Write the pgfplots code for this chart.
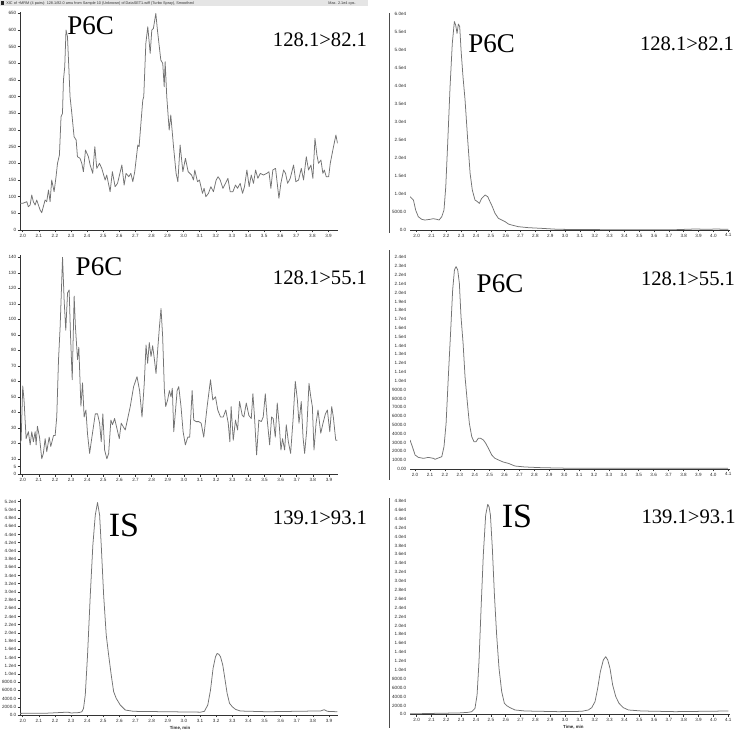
\documentclass[border=0pt]{standalone}
\usepackage{pgfplots}
\pgfplotsset{compat=1.18}
\usepackage{fontspec}
\setmainfont{Liberation Serif}
\newfontfamily\tickfont{Liberation Sans}

\pgfplotsset{
  chrom/.style={
    scale only axis, anchor=south west,
    axis x line*=bottom, axis y line*=left,
    axis line style={black!80, line width=0.4pt},
    tick style={black!80, line width=0.3pt},
    tick align=outside, major tick length=1.2pt,
    ticklabel style={font=\tickfont\fontsize{2.3}{2.6}\selectfont, text=black!85, inner sep=0.5pt,
      /pgf/number format/assume math mode=true},
    xticklabel style={/pgf/number format/.cd, fixed, fixed zerofill, precision=1, assume math mode=true},
    ymin=0,
  },
  leftx/.style={xmin=1.983, xmax=3.956,
    xtick={2.0,2.1,2.2,2.3,2.4,2.5,2.6,2.7,2.8,2.9,3.0,3.1,3.2,3.3,3.4,3.5,3.6,3.7,3.8,3.9}},
  rightx/.style={xmax=4.112,
    xtick={2.0,2.1,2.2,2.3,2.4,2.5,2.6,2.7,2.8,2.9,3.0,3.1,3.2,3.3,3.4,3.5,3.6,3.7,3.8,3.9,4.0,4.1},
    y axis line style={draw=none}, ytick style={draw=none}},
  trace/.style={black!55, line width=0.38pt, no marks, line join=round},
}

\begin{document}
\begin{tikzpicture}
\path[use as bounding box] (0,0) rectangle (373.5pt,-373pt);

% header band
\fill[black!10] (0,0) rectangle (184pt,-3.2pt);
\fill[black!85] (0.5pt,-0.6pt) rectangle (2.1pt,-2.4pt);
\node[anchor=west, inner sep=0, font=\tickfont\fontsize{1.9}{2}\selectfont, text=black!80] at (3pt,-1.6pt)
  {XIC of +MRM (4 pairs): 128.1/82.0 amu from Sample 10 (Unknown) of DataSET1.wiff (Turbo Spray), Smoothed};
\node[anchor=west, inner sep=0, font=\tickfont\fontsize{1.9}{2}\selectfont, text=black!80] at (164pt,-1.6pt)
  {Max. 2.1e4 cps.};

% ---------- Panel 1 ----------
\begin{axis}[chrom, leftx, at={(10pt,-115pt)}, width=158.75pt, height=109.15pt,
  ymax=655, ytick={0,50,...,650},
  yticklabels={0,50,100,150,200,250,300,350,400,450,500,550,600,650}]
\addplot[trace] coordinates {
(1.983,80)(2.000,80)(2.025,85)(2.035,70)(2.046,75)(2.056,105)(2.066,85)(2.077,75)(2.087,90)
(2.108,60)(2.118,52)(2.139,90)(2.149,85)(2.160,120)(2.170,85)(2.180,150)(2.195,115)(2.207,160)
(2.216,200)(2.228,225)(2.238,340)(2.247,350)(2.253,450)(2.261,490)(2.269,600)(2.278,580)
(2.288,470)(2.294,400)(2.305,350)(2.319,280)(2.332,270)(2.340,220)(2.356,215)(2.367,200)
(2.377,175)(2.390,240)(2.408,220)(2.419,195)(2.435,170)(2.448,250)(2.460,185)(2.477,200)
(2.491,185)(2.512,150)(2.522,165)(2.543,115)(2.557,175)(2.574,130)(2.589,140)(2.616,195)
(2.630,135)(2.642,170)(2.659,160)(2.672,170)(2.684,145)(2.696,175)(2.715,255)(2.723,250)
(2.736,330)(2.746,390)(2.752,400)(2.765,560)(2.777,610)(2.792,530)(2.802,600)(2.812,605)
(2.827,650)(2.837,600)(2.858,510)(2.870,500)(2.879,430)(2.885,505)(2.895,400)(2.910,300)
(2.920,345)(2.937,250)(2.953,170)(2.964,145)(2.978,255)(2.995,175)(3.011,215)(3.028,175)
(3.049,165)(3.061,150)(3.069,180)(3.086,145)(3.098,150)(3.117,110)(3.127,125)(3.138,100)
(3.154,110)(3.169,130)(3.185,115)(3.202,150)(3.214,160)(3.227,150)(3.244,125)(3.260,140)
(3.275,155)(3.289,115)(3.306,115)(3.322,135)(3.335,125)(3.351,140)(3.366,110)(3.378,130)
(3.393,180)(3.407,130)(3.420,165)(3.434,140)(3.447,180)(3.461,155)(3.476,170)(3.496,165)
(3.517,170)(3.530,175)(3.542,125)(3.554,180)(3.571,185)(3.592,95)(3.604,140)(3.621,180)
(3.633,170)(3.646,140)(3.662,155)(3.683,195)(3.697,145)(3.714,150)(3.731,185)(3.745,150)
(3.762,220)(3.776,180)(3.791,195)(3.803,155)(3.816,275)(3.828,225)(3.838,200)(3.853,210)
(3.865,170)(3.874,180)(3.886,160)(3.901,160)(3.911,200)(3.927,240)(3.946,285)(3.956,260)
};
\end{axis}

% ---------- Panel 3 ----------
\begin{axis}[chrom, leftx, at={(10pt,-237.15pt)}, width=159pt, height=109.65pt,
  ymax=141.5, ytick={0,5,10,20,30,40,50,60,70,80,90,100,110,120,130,140},
  yticklabels={0,5,10,20,30,40,50,60,70,80,90,100,110,120,130,140}]
\addplot[trace] coordinates {
(1.983,20)(1.990,22)(2.000,57)(2.008,48)(2.021,23)(2.035,27.5)(2.046,19)(2.056,27.5)(2.066,21)
(2.077,27.5)(2.083,19)(2.091,31)(2.104,24)(2.118,10)(2.128,13.5)(2.139,23)(2.149,14.6)(2.164,24)
(2.174,18)(2.191,25)(2.201,25)(2.211,37)(2.222,74)(2.232,95)(2.247,140)(2.257,112)(2.267,93)
(2.278,117)(2.288,119)(2.296,91)(2.307,61)(2.319,115)(2.327,95)(2.340,74)(2.348,82)(2.361,44)
(2.371,59)(2.381,37)(2.392,41.5)(2.402,26)(2.415,13.5)(2.425,21)(2.439,31)(2.450,39)(2.464,39)
(2.477,33)(2.487,21)(2.497,39)(2.508,15.7)(2.522,10)(2.533,13.5)(2.547,35)(2.557,32)(2.570,36)
(2.589,27.5)(2.599,23)(2.611,33)(2.622,31)(2.636,28.6)(2.667,43.7)(2.688,56.6)(2.709,63)
(2.725,54)(2.740,37)(2.754,58.7)(2.765,83.4)(2.775,71.6)(2.785,85)(2.796,76)(2.806,83)
(2.817,74)(2.827,65)(2.837,80)(2.848,95)(2.858,107)(2.868,89)(2.879,54)(2.887,43.7)(2.899,48)
(2.910,54)(2.920,50)(2.928,55.5)(2.937,27.5)(2.958,54)(2.968,56.6)(2.982,43.7)(2.995,27.5)
(3.009,19)(3.024,24)(3.036,24)(3.051,54)(3.061,35)(3.076,34)(3.092,34)(3.107,33)(3.123,24)
(3.144,43.7)(3.165,61)(3.179,48)(3.196,50)(3.210,41.5)(3.227,37)(3.244,37)(3.260,41.5)
(3.275,33)(3.285,21)(3.293,43.7)(3.306,22)(3.320,35)(3.333,28.6)(3.345,47)(3.362,38)(3.372,37)
(3.387,46)(3.403,38)(3.418,36)(3.428,52)(3.438,37)(3.451,12.5)(3.465,35)(3.480,34)(3.492,37)
(3.505,52)(3.517,35)(3.532,19)(3.544,37)(3.554,36)(3.567,24)(3.579,46)(3.592,31)(3.602,15.7)
(3.612,23)(3.625,15.7)(3.635,32)(3.648,21)(3.662,13.5)(3.677,35)(3.691,60)(3.704,48)(3.714,33)
(3.728,47)(3.739,24)(3.749,13.5)(3.762,28.6)(3.776,58.7)(3.787,50)(3.797,43.7)(3.807,15.7)
(3.820,33)(3.832,41.5)(3.849,26.5)(3.863,33)(3.878,39)(3.890,41.5)(3.905,27.5)(3.917,43.7)
(3.927,37)(3.942,22)(3.952,22)
};
\end{axis}

% ---------- Panel 5 ----------
\begin{axis}[chrom, leftx, at={(10pt,-357.5pt)}, width=159pt, height=108pt,
  ymax=52650, ytick={0,2000,...,52000}, scaled y ticks=false,
  yticklabels={0.0,2000.0,4000.0,6000.0,8000.0,1.0e4,1.2e4,1.4e4,1.6e4,1.8e4,2.0e4,2.2e4,2.4e4,2.6e4,2.8e4,3.0e4,3.2e4,3.4e4,3.6e4,3.8e4,4.0e4,4.2e4,4.4e4,4.6e4,4.8e4,5.0e4,5.2e4}]
\addplot[trace] coordinates {
(1.983,400)(2.150,450)(2.280,700)(2.300,500)(2.350,600)(2.367,800)(2.377,1600)(2.388,4900)
(2.402,14600)(2.419,29200)(2.435,41400)(2.450,48700)(2.464,51800)(2.477,48700)(2.487,41400)
(2.502,29200)(2.518,19500)(2.533,14600)(2.549,9750)(2.564,5700)(2.580,4060)(2.605,2440)
(2.636,1220)(2.688,900)(2.895,800)(3.103,700)(3.127,900)(3.148,2440)(3.165,6100)(3.181,11400)
(3.196,14200)(3.206,15000)(3.217,14800)(3.227,14200)(3.241,12200)(3.254,8900)(3.268,5300)
(3.283,2850)(3.300,2030)(3.320,1380)(3.351,975)(3.517,800)(3.849,1000)(3.870,1300)(3.890,900)
(3.952,800)
};
\end{axis}

% ---------- Panel 2 ----------
\begin{axis}[chrom, rightx, xmin=1.955, at={(205pt,-115pt)}, width=160pt, height=108.65pt,
  ymax=60460, ytick={0,5000,...,60000}, scaled y ticks=false,
  yticklabels={0.0,5000.0,1.0e4,1.5e4,2.0e4,2.5e4,3.0e4,3.5e4,4.0e4,4.5e4,5.0e4,5.5e4,6.0e4}]
\addplot[trace] coordinates {
(1.955,9270)(1.978,8350)(1.993,5560)(2.011,3700)(2.034,2970)(2.056,2780)(2.090,2970)(2.112,3150)
(2.135,2970)(2.151,2780)(2.169,3700)(2.184,5560)(2.196,12000)(2.209,24100)(2.225,39900)
(2.240,51900)(2.254,58000)(2.263,57000)(2.272,54700)(2.281,57300)(2.290,56600)(2.299,50100)
(2.312,42700)(2.326,36200)(2.344,25000)(2.360,15800)(2.375,11100)(2.393,8350)(2.409,7900)
(2.422,7400)(2.438,8800)(2.461,9740)(2.479,9270)(2.494,7900)(2.510,6500)(2.528,4640)
(2.551,3250)(2.573,2780)(2.596,2320)(2.618,1670)(2.640,1390)(2.685,930)(2.753,650)(2.843,460)
(2.955,190)(3.292,90)(3.742,90)(3.876,280)(3.966,190)(4.011,280)(4.101,190)
};
\end{axis}

% ---------- Panel 4 ----------
\begin{axis}[chrom, rightx, xmin=1.966, at={(205pt,-234.5pt)}, width=160pt, height=107pt,
  ymax=24265, ytick={0,1000,...,24000}, scaled y ticks=false,
  yticklabels={0.00,1000.0,2000.0,3000.0,4000.0,5000.0,6000.0,7000.0,8000.0,9000.0,1.0e4,1.1e4,1.2e4,1.3e4,1.4e4,1.5e4,1.6e4,1.7e4,1.8e4,1.9e4,2.0e4,2.1e4,2.2e4,2.3e4,2.4e4}]
\addplot[trace] coordinates {
(1.966,3290)(1.982,2530)(2.000,1590)(2.022,1320)(2.056,1210)(2.089,1320)(2.123,1210)(2.134,1100)
(2.156,1250)(2.179,1400)(2.194,2530)(2.208,5180)(2.223,10470)(2.239,15760)(2.252,20300)
(2.264,22570)(2.275,22950)(2.286,22570)(2.297,21050)(2.308,17270)(2.322,14250)(2.335,10470)
(2.351,7450)(2.364,5180)(2.380,3670)(2.395,3100)(2.409,3100)(2.424,3480)(2.440,3480)
(2.458,3290)(2.474,2910)(2.492,2340)(2.514,1590)(2.536,1210)(2.570,945)(2.592,790)(2.626,640)
(2.670,340)(2.737,230)(2.849,150)(3.072,75)(3.519,75)(4.100,75)
};
\end{axis}

% ---------- Panel 6 ----------
\begin{axis}[chrom, rightx, xmin=1.955, at={(205pt,-357.15pt)}, width=160pt, height=107.65pt,
  ymax=48450, ytick={0,2000,...,48000}, scaled y ticks=false,
  yticklabels={0.0,2000.0,4000.0,6000.0,8000.0,1.0e4,1.2e4,1.4e4,1.6e4,1.8e4,2.0e4,2.2e4,2.4e4,2.6e4,2.8e4,3.0e4,3.2e4,3.4e4,3.6e4,3.8e4,4.0e4,4.2e4,4.4e4,4.6e4,4.8e4}]
\addplot[trace] coordinates {
(1.955,100)(2.169,250)(2.281,300)(2.348,450)(2.371,600)(2.393,1350)(2.407,4350)(2.420,11850)
(2.434,23850)(2.449,35850)(2.465,44850)(2.479,47250)(2.488,46700)(2.497,44850)(2.510,37350)
(2.524,26850)(2.539,17850)(2.555,10350)(2.573,5100)(2.591,2475)(2.607,1950)(2.629,1500)
(2.663,975)(2.730,750)(2.955,600)(3.112,675)(3.157,975)(3.180,1500)(3.202,2850)(3.220,5850)
(3.238,9600)(3.258,12225)(3.274,12975)(3.288,12225)(3.303,10350)(3.321,6600)(3.342,3975)
(3.364,2475)(3.393,1500)(3.427,975)(3.517,750)(3.742,600)(4.101,750)
};
\end{axis}

% right-panel frame lines
\draw[black!70, line width=0.4pt] (194.5pt,-6.5pt) -- (194.5pt,-116.5pt);
\draw[black!70, line width=0.4pt] (194.5pt,-125pt) -- (194.5pt,-240pt);
\draw[black!70, line width=0.4pt] (194.5pt,-249pt) -- (194.5pt,-364pt);

% x-axis titles
\node[inner sep=0, font=\tickfont\bfseries\fontsize{2.2}{2.5}\selectfont, text=black!85] at (90pt,-364.2pt) {Time, min};
\node[inner sep=0, font=\tickfont\bfseries\fontsize{2.2}{2.5}\selectfont, text=black!85] at (286.7pt,-363.7pt) {Time, min};

% annotations
\node[inner sep=0, font=\fontsize{13.5}{14}\selectfont] at (45.3pt,-13pt) {P6C};
\node[inner sep=0, font=\fontsize{10.3}{11}\selectfont] at (160pt,-19.7pt) {128.1>82.1};
\node[inner sep=0, font=\fontsize{13.5}{14}\selectfont] at (245.8pt,-21.7pt) {P6C};
\node[inner sep=0, font=\fontsize{10.3}{11}\selectfont] at (343.5pt,-21.7pt) {128.1>82.1};
\node[inner sep=0, font=\fontsize{13.5}{14}\selectfont] at (49.5pt,-133.3pt) {P6C};
\node[inner sep=0, font=\fontsize{10.3}{11}\selectfont] at (160pt,-139pt) {128.1>55.1};
\node[inner sep=0, font=\fontsize{13.5}{14}\selectfont] at (250pt,-141.7pt) {P6C};
\node[inner sep=0, font=\fontsize{10.3}{11}\selectfont] at (344pt,-139.2pt) {128.1>55.1};
\node[inner sep=0, font=\fontsize{17}{18}\selectfont] at (62pt,-262.8pt) {IS};
\node[inner sep=0, font=\fontsize{10.3}{11}\selectfont] at (160pt,-258.8pt) {139.1>93.1};
\node[inner sep=0, font=\fontsize{17}{18}\selectfont] at (258.5pt,-258.3pt) {IS};
\node[inner sep=0, font=\fontsize{10.3}{11}\selectfont] at (344.3pt,-258.3pt) {139.1>93.1};
\end{tikzpicture}
\end{document}
